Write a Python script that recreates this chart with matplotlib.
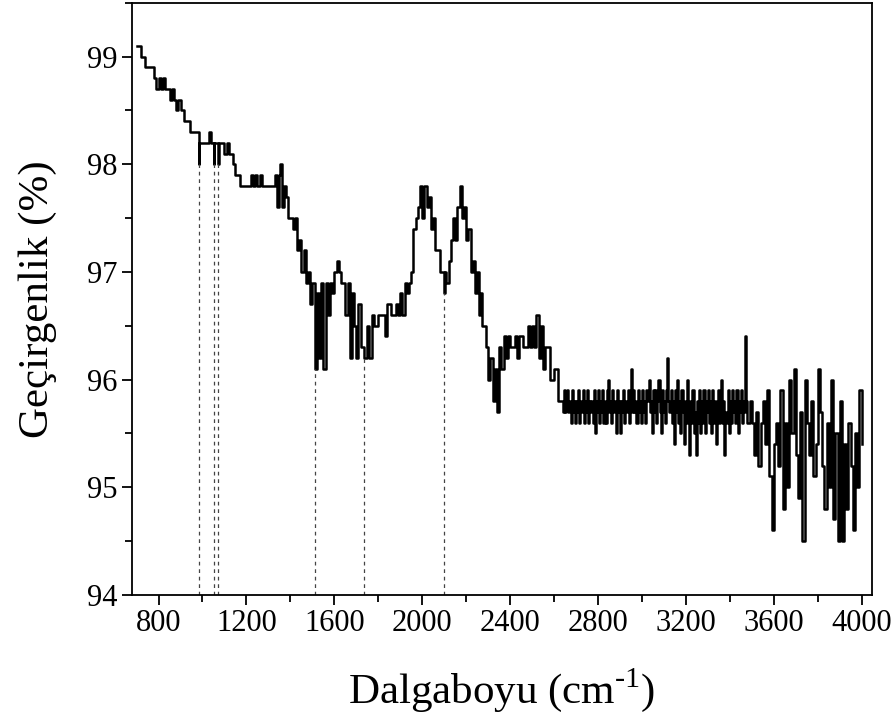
import numpy as np
import matplotlib
matplotlib.use("Agg")
import matplotlib.pyplot as plt
from matplotlib.ticker import MultipleLocator

plt.rcParams['font.family'] = ['Liberation Serif', 'DejaVu Serif']
plt.rcParams['mathtext.fontset'] = 'custom'
plt.rcParams['mathtext.rm'] = 'Liberation Serif'

# okunan spektrum (dalga sayısı, geçirgenlik), bölüm bölüm
wn_a = [700, 720, 740, 760, 780, 790, 800, 810, 820, 830, 840, 850, 860, 870,
        880, 890, 900, 915, 930, 945, 960, 975, 984, 986, 1000, 1020, 1030, 1040,
        1051, 1053, 1060, 1072, 1074, 1090, 1100, 1110, 1120, 1130, 1140, 1150,
        1160, 1170, 1185, 1200, 1220, 1230, 1240, 1250, 1260, 1270, 1280, 1290,
        1300, 1320, 1330, 1340, 1350, 1355, 1360, 1370, 1380, 1390, 1400, 1410,
        1420, 1430, 1440, 1450, 1460, 1470, 1480, 1490, 1500, 1514, 1520, 1530,
        1540, 1550, 1560, 1570, 1580, 1590, 1600, 1610, 1620, 1630, 1640, 1650,
        1660, 1670, 1680, 1690, 1700, 1710, 1720, 1734, 1750, 1760, 1770, 1780,
        1800, 1820, 1830, 1840, 1860, 1880, 1890, 1900, 1910, 1920, 1930, 1940,
        1950, 1960, 1970, 1980, 1990, 2000, 2010, 2020, 2030, 2040, 2050, 2060,
        2080, 2098, 2105, 2110, 2120, 2130, 2140, 2150, 2160, 2170, 2180, 2190,
        2200, 2210, 2220, 2230, 2240, 2250, 2260, 2265, 2270, 2290, 2300, 2310,
        2320, 2330, 2340, 2350, 2360, 2370, 2380, 2390, 2400, 2420, 2430, 2440,
        2460, 2480, 2490, 2500, 2510, 2520, 2530, 2540, 2550, 2560, 2580, 2600,
        2620]
tr_a = [99.1, 99.0, 98.9, 98.9, 98.8, 98.7, 98.8, 98.7, 98.8, 98.7, 98.7, 98.6, 98.7, 98.6,
        98.5, 98.6, 98.5, 98.4, 98.4, 98.3, 98.3, 98.3, 98.0, 98.2, 98.2, 98.2, 98.3, 98.2,
        98.0, 98.2, 98.2, 98.0, 98.2, 98.2, 98.1, 98.2, 98.1, 98.1, 98.0, 97.9,
        97.9, 97.8, 97.8, 97.8, 97.9, 97.8, 97.9, 97.8, 97.9, 97.8, 97.8, 97.8,
        97.8, 97.8, 97.9, 97.6, 97.9, 98.0, 97.6, 97.8, 97.7, 97.5, 97.5, 97.4,
        97.5, 97.2, 97.3, 97.0, 97.2, 96.9, 97.0, 96.7, 96.9, 96.1, 96.8, 96.2,
        96.9, 96.1, 96.9, 96.6, 96.9, 96.8, 97.0, 97.1, 97.0, 96.9, 96.9, 96.6,
        96.9, 96.2, 96.8, 96.5, 96.2, 96.7, 96.3, 96.2, 96.5, 96.2, 96.6, 96.5,
        96.6, 96.6, 96.4, 96.7, 96.6, 96.7, 96.6, 96.8, 96.6, 96.9, 96.8, 96.9,
        97.0, 97.4, 97.5, 97.6, 97.8, 97.5, 97.8, 97.6, 97.7, 97.4, 97.5, 97.2,
        97.0, 96.8, 97.0, 96.9, 97.1, 97.3, 97.5, 97.3, 97.6, 97.8, 97.5, 97.6,
        97.3, 97.4, 97.0, 97.1, 96.8, 97.0, 96.6, 96.8, 96.5, 96.3, 96.0, 96.2,
        95.8, 96.1, 95.7, 96.3, 96.1, 96.4, 96.2, 96.4, 96.3, 96.4, 96.2, 96.4,
        96.3, 96.5, 96.3, 96.5, 96.3, 96.6, 96.2, 96.5, 96.1, 96.3, 96.0, 96.1,
        95.8]

# 2640-3475 arası gürültülü düz bölge (5 cm-1 aralıkla okundu)
wn_b = list(range(2640, 3480, 5))
tr_b = [95.7, 95.9, 95.7, 95.8, 95.9, 95.7, 95.8, 95.6, 95.9, 95.7, 95.8, 95.6,
        95.8, 95.7, 95.9, 95.6, 95.8, 95.7, 95.9, 95.6, 95.8, 95.7, 95.9, 95.6,
        95.8, 95.7, 95.8, 95.6, 95.9, 95.5, 95.8, 95.7, 95.9, 95.6, 95.8, 95.7,
        95.9, 95.6, 95.8, 95.6, 95.9, 96.0, 95.7, 95.8, 95.6, 95.9, 95.7, 95.8,
        95.5, 95.9, 95.7, 95.8, 95.5, 95.8, 95.7, 95.9, 95.6, 95.8, 95.7, 95.9,
        95.6, 95.8, 96.1, 95.7, 95.9, 95.7, 95.8, 95.6, 95.9, 95.7, 95.8, 95.6,
        95.9, 95.7, 95.8, 95.6, 95.9, 95.8, 96.0, 95.7, 95.8, 95.5, 95.9, 95.7,
        95.9, 95.6, 95.8, 96.0, 95.7, 95.5, 95.9, 95.7, 95.8, 95.6, 95.9, 96.2,
        95.8, 95.7, 95.9, 95.6, 95.8, 95.4, 95.9, 95.7, 96.0, 95.6, 95.8, 95.5,
        95.9, 95.7, 95.4, 95.8, 95.6, 96.0, 95.7, 95.3, 95.8, 95.6, 95.9, 95.5,
        95.7, 95.3, 95.8, 95.6, 95.9, 95.5, 95.8, 95.6, 95.9, 95.5, 95.8, 95.7,
        95.9, 95.6, 95.8, 95.5, 95.9, 95.6, 95.8, 95.4, 95.7, 95.9, 95.6, 95.8,
        96.0, 95.6, 95.8, 95.3, 95.7, 95.6, 95.9, 95.5, 95.8, 95.6, 95.9, 95.7,
        95.8, 95.6, 95.9, 95.5, 95.8, 95.7, 95.9, 95.6, 95.8, 95.7, 96.4, 95.8]

# 3480-4000 arası güçlü gürültü
wn_c = [3480, 3490, 3500, 3510, 3520, 3530, 3540, 3550, 3560, 3570, 3580, 3590,
        3600, 3610, 3620, 3630, 3640, 3650, 3660, 3670, 3680, 3690, 3700, 3710,
        3720, 3730, 3740, 3750, 3760, 3770, 3780, 3790, 3800, 3810, 3820, 3830,
        3840, 3850, 3860, 3870, 3880, 3890, 3900, 3910, 3920, 3930, 3940, 3950,
        3960, 3970, 3980, 3990, 4000]
tr_c = [95.6, 95.8, 95.6, 95.3, 95.7, 95.2, 95.6, 95.8, 95.4, 95.9, 95.1, 94.6,
        95.4, 95.6, 95.2, 95.9, 94.8, 95.6, 95.0, 96.0, 95.5, 96.1, 95.3, 94.9,
        95.7, 94.5, 96.0, 95.6, 95.3, 95.8, 95.1, 95.4, 96.1, 95.7, 95.2, 94.8,
        95.6, 95.0, 96.0, 94.7, 95.5, 94.5, 95.8, 94.5, 95.4, 94.8, 95.6, 95.2,
        94.6, 95.5, 95.0, 95.9, 95.4]

wavenumber = wn_a + wn_b + wn_c
transmittance = tr_a + tr_b + tr_c

# işaretli bantlar
peak_x = [984, 1051, 1072, 1514, 1734, 2098]
peak_y = [98.0, 98.0, 98.0, 96.1, 96.2, 96.8]

fig = plt.figure(figsize=(8.93, 7.2), dpi=100)
ax = fig.add_axes([0.148, 0.174, 0.828, 0.822])

ax.plot(wavenumber, transmittance, color='black', linewidth=1.8, drawstyle='steps-post')
ax.vlines(peak_x, 94, peak_y, colors='#444444', linestyles=(0, (3, 3)), linewidth=0.9)

ax.set_xlim(680, 4045)
ax.set_ylim(94, 99.5)
ax.set_xticks(np.arange(800, 4001, 400))
ax.xaxis.set_minor_locator(MultipleLocator(200))
ax.yaxis.set_major_locator(MultipleLocator(1))
ax.yaxis.set_minor_locator(MultipleLocator(0.5))
ax.tick_params(which='major', direction='out', length=7, width=1.3, labelsize=22)
ax.tick_params(which='minor', direction='out', length=5, width=1.3)
for s in ax.spines.values():
    s.set_linewidth(1.3)

ax.set_xlabel('Dalgaboyu (cm$^{\\mathregular{\u2010}1}$)', fontsize=31, labelpad=20)
ax.set_ylabel('Geçirgenlik (%)', fontsize=31, labelpad=22)

fig.savefig('out.png', dpi=100)
